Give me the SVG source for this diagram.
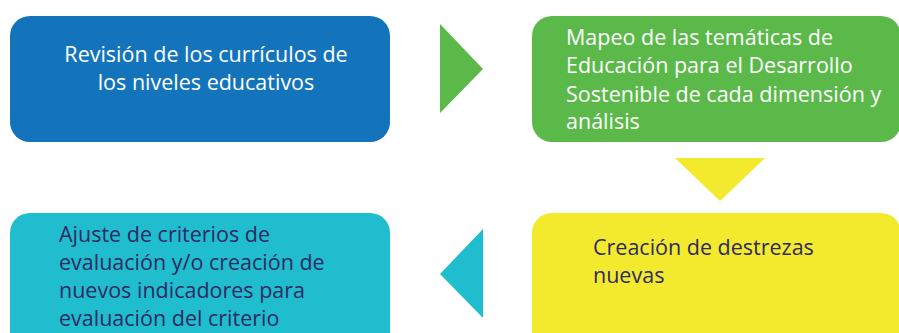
<svg xmlns="http://www.w3.org/2000/svg" width="899" height="333" viewBox="0 0 899 333">
<style>
.lbl{font-family:"Open Sans","Liberation Sans",sans-serif;font-size:21.5px;}
.w{fill:#ffffff;}
.d{fill:#2e2a63;}
</style>
<rect width="899" height="333" fill="#ffffff"/>
<g id="connectors">
<polygon points="440,24 483,69 440,113" fill="#5bb94a"/>
<polygon points="675,158 765,158 720,201" fill="#f3ea2e"/>
<polygon points="483,229 483,318 440,274" fill="#1fbdcd"/>
</g>
<g id="n1">
<rect x="10" y="16" width="380" height="126" rx="20" fill="#1374bb"/>
<text class="lbl w" text-anchor="middle"><tspan x="206" y="62">Revisión de los currículos de</tspan><tspan x="206" y="90">los niveles educativos</tspan></text>
</g>
<g id="n2">
<rect x="532" y="16" width="369" height="126" rx="20" fill="#5bb94a"/>
<text class="lbl w"><tspan x="566" y="45">Mapeo de las temáticas de</tspan><tspan x="566" y="73">Educación para el Desarrollo</tspan><tspan x="566" y="102">Sostenible de cada dimensión y</tspan><tspan x="566" y="129">análisis</tspan></text>
</g>
<g id="n3">
<rect x="532" y="213" width="369" height="160" rx="20" fill="#f3ea2e"/>
<text class="lbl d"><tspan x="593" y="255">Creación de destrezas</tspan><tspan x="593" y="283">nuevas</tspan></text>
</g>
<g id="n4">
<rect x="10" y="213" width="380" height="160" rx="20" fill="#1fbdcd"/>
<text class="lbl d"><tspan x="59" y="242">Ajuste de criterios de</tspan><tspan x="59" y="270">evaluación y/o creación de</tspan><tspan x="59" y="298">nuevos indicadores para</tspan><tspan x="59" y="326">evaluación del criterio</tspan></text>
</g>
</svg>
